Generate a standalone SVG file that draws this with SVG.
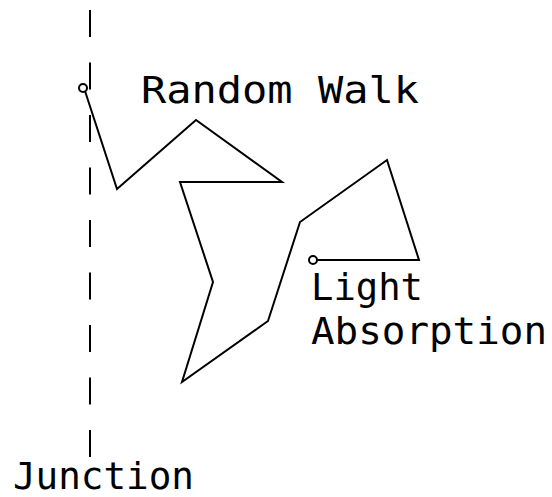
<svg xmlns="http://www.w3.org/2000/svg" width="552" height="497" viewBox="0 0 552 497">
<style>
.t{font-family:"DejaVu Sans Mono","Liberation Mono",monospace;font-size:38px;fill:#000}
.ln{fill:none;stroke:#000;stroke-width:2;stroke-linejoin:miter}
</style>
<rect width="552" height="497" fill="#fff"/>
<g id="junction-line">
<line x1="90" y1="10" x2="90" y2="458" class="ln" stroke-dasharray="27 25.5"/>
</g>
<g id="connectors">
<polyline class="ln" points="85,91 117,189 196,120 282,182 180,182 213,282 182,382 268,321 300,222 387,160 419,260 317,260"/>
</g>
<g id="start">
<circle cx="83" cy="88" r="4" class="ln" stroke-width="1.6"/>
</g>
<g id="end">
<circle cx="313" cy="260" r="4" class="ln" stroke-width="1.6"/>
</g>
<g id="labels">
<text class="t" x="141" y="103" textLength="278" lengthAdjust="spacingAndGlyphs">Random Walk</text>
<text class="t" x="311" y="300" textLength="112" lengthAdjust="spacingAndGlyphs">Light</text>
<text class="t" x="311" y="344" textLength="236" lengthAdjust="spacingAndGlyphs">Absorption</text>
<text class="t" x="13" y="489" font-size="37" textLength="181" lengthAdjust="spacingAndGlyphs">Junction</text>
</g>
</svg>
